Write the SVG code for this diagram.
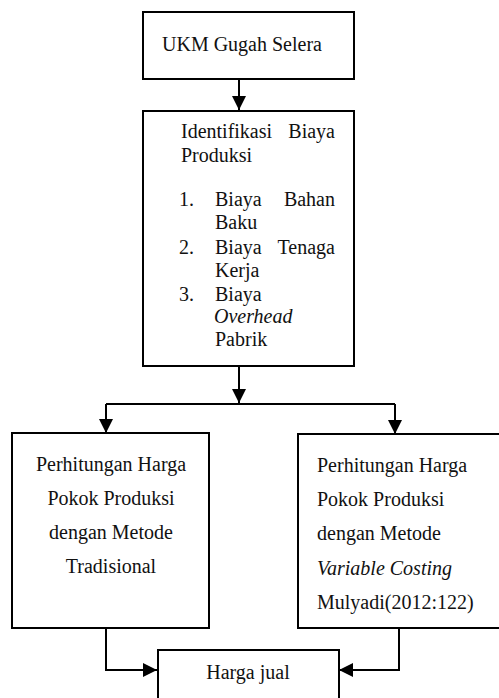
<svg xmlns="http://www.w3.org/2000/svg" width="499" height="698" viewBox="0 0 499 698">
<style>
.box{fill:#fff;stroke:#000;stroke-width:2}
.t{font-family:'Liberation Serif','Times New Roman',Times,'DejaVu Serif',serif;font-size:20px;fill:#111}
.i{font-style:italic}
.c{fill:none;stroke:#000;stroke-width:2}
</style>
<defs>
<marker id="ah" markerUnits="userSpaceOnUse" markerWidth="14" markerHeight="14" refX="14" refY="7" orient="auto" viewBox="0 0 14 14">
<path d="M0,0 L14,7 L0,14 Z" fill="#000"/>
</marker>
</defs>
<g id="connectors">
<line class="c" x1="239" y1="79" x2="239" y2="110" marker-end="url(#ah)"/>
<line class="c" x1="239" y1="366" x2="239" y2="403" marker-end="url(#ah)"/>
<polyline class="c" points="106,404 395,404"/>
<line class="c" x1="106" y1="404" x2="106" y2="433" marker-end="url(#ah)"/>
<line class="c" x1="395" y1="404" x2="395" y2="434" marker-end="url(#ah)"/>
<polyline class="c" points="106,628 106,670 157,670" marker-end="url(#ah)"/>
<polyline class="c" points="399,628 399,670 339,670" marker-end="url(#ah)"/>
</g>
<g id="node-ukm">
<rect class="box" x="143" y="12" width="211" height="67"/>
<text class="t" x="162" y="51" font-family="Liberation Serif">UKM Gugah Selera</text>
</g>
<g id="node-identifikasi">
<rect class="box" x="143" y="111" width="211" height="255"/>
<text class="t" x="181" y="138">Identifikasi</text>
<text class="t" x="335" y="138" text-anchor="end">Biaya</text>
<text class="t" x="181" y="162">Produksi</text>
<text class="t" x="179" y="206">1.</text>
<text class="t" x="215" y="206">Biaya</text>
<text class="t" x="335" y="206" text-anchor="end">Bahan</text>
<text class="t" x="215" y="229">Baku</text>
<text class="t" x="179" y="254">2.</text>
<text class="t" x="215" y="254">Biaya</text>
<text class="t" x="335" y="254" text-anchor="end">Tenaga</text>
<text class="t" x="215" y="277">Kerja</text>
<text class="t" x="179" y="301">3.</text>
<text class="t" x="215" y="301">Biaya</text>
<text class="t i" x="214" y="323">Overhead</text>
<text class="t" x="215" y="346">Pabrik</text>
</g>
<g id="node-tradisional">
<rect class="box" x="12" y="433" width="197" height="195"/>
<text class="t" x="111" y="471" text-anchor="middle">Perhitungan Harga</text>
<text class="t" x="111" y="505" text-anchor="middle">Pokok Produksi</text>
<text class="t" x="111" y="539" text-anchor="middle">dengan Metode</text>
<text class="t" x="111" y="573" text-anchor="middle">Tradisional</text>
</g>
<g id="node-variable">
<rect class="box" x="298" y="434" width="203" height="194"/>
<text class="t" x="317" y="472">Perhitungan Harga</text>
<text class="t" x="317" y="506">Pokok Produksi</text>
<text class="t" x="317" y="540">dengan Metode</text>
<text class="t i" x="317" y="575">Variable Costing</text>
<text class="t" x="317" y="609">Mulyadi(2012:122)</text>
</g>
<g id="node-harga">
<rect class="box" x="158" y="650" width="181" height="60"/>
<text class="t" x="248" y="679" text-anchor="middle">Harga jual</text>
</g>
</svg>
